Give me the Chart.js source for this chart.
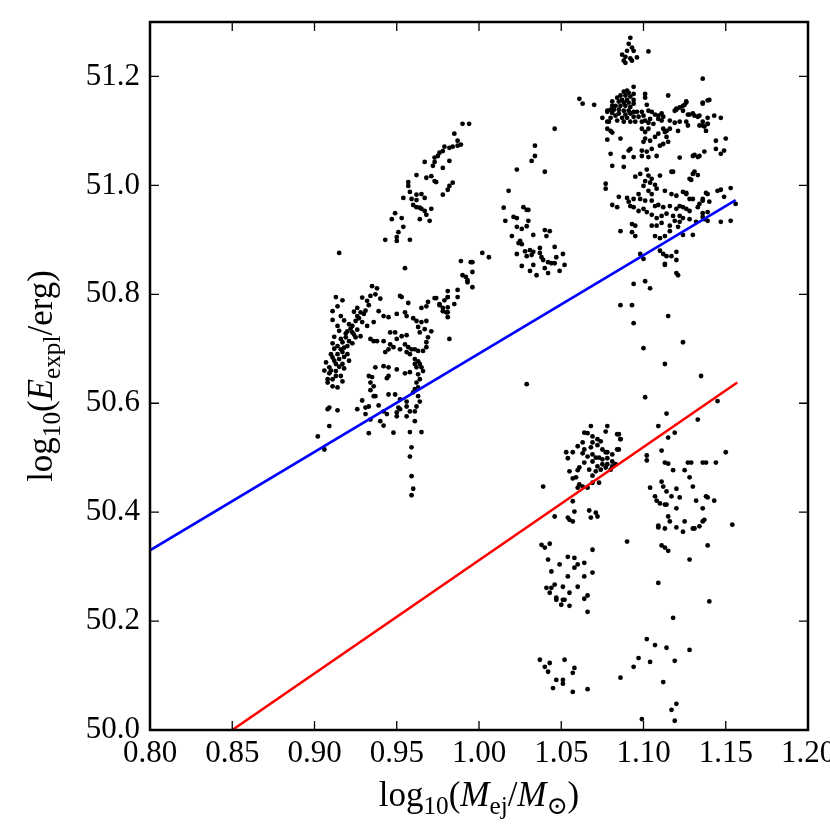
<!DOCTYPE html>
<html>
<head>
<meta charset="utf-8">
<script src="https://cdn.jsdelivr.net/npm/chart.js@4.4.0/dist/chart.umd.min.js"></script>
<style>
  html, body { margin: 0; padding: 0; background: #fff; overflow: hidden; }
</style>
</head>
<body>
<canvas id="chart" width="830" height="830"></canvas>
<script>
// [log10(Mej/Msun), log10(Eexpl/erg)], grouped by cluster
var armUpper = [[0.990,51.113],[0.994,51.113],[0.985,51.095],[0.987,51.082],[0.989,51.075],[0.987,51.073],[0.984,51.071],[0.982,51.069],[0.979,51.071],[0.978,51.063],[0.976,51.060],[0.975,51.054],[0.973,51.051],[0.973,51.043],[0.982,51.045],[0.967,51.043],[0.972,51.036],[0.978,51.032],[0.962,51.019],[0.968,51.014],[0.971,51.017],[0.973,51.008],[0.974,51.006],[0.984,51.005],[0.982,50.999],[0.981,50.992],[0.978,50.983],[0.957,51.006],[0.957,50.999],[0.958,50.988],[0.962,50.983],[0.965,50.984],[0.967,50.977],[0.954,50.977],[0.959,50.975],[0.962,50.973],[0.960,50.964],[0.962,50.960],[0.964,50.959],[0.965,50.957],[0.967,50.953],[0.971,50.957],[0.968,50.946],[0.970,50.935],[0.964,50.938],[0.949,50.949],[0.947,50.938],[0.953,50.940],[0.954,50.924],[0.951,50.914],[0.950,50.905],[0.950,50.898],[0.943,50.900],[0.958,50.900],[0.915,50.876],[0.955,50.848]];

var armLower = [[1.002,50.876],[1.006,50.868],[0.989,50.861],[0.995,50.859],[0.996,50.859],[0.996,50.841],[0.990,50.835],[0.992,50.832],[0.993,50.826],[0.993,50.822],[0.996,50.813],[0.987,50.808],[0.981,50.806],[0.981,50.795],[0.979,50.789],[0.987,50.795],[0.985,50.782],[0.974,50.793],[0.981,50.776],[0.980,50.767],[0.981,50.758],[0.982,50.718],[0.976,50.782],[0.978,50.775]];

var leftBand = [[0.935,50.815],[0.938,50.811],[0.913,50.795],[0.917,50.789],[0.914,50.778],[0.911,50.769],[0.932,50.788],[0.933,50.780],[0.926,50.775],[0.928,50.767],[0.930,50.764],[0.926,50.760],[0.925,50.751],[0.929,50.749],[0.936,50.749],[0.932,50.742],[0.923,50.742],[0.920,50.732],[0.914,50.742],[0.923,50.730],[0.919,50.721],[0.921,50.714],[0.917,50.712],[0.911,50.710],[0.916,50.699],[0.914,50.690],[0.917,50.694],[0.911,50.684],[0.915,50.681],[0.913,50.672],[0.909,50.666],[0.917,50.672],[0.913,50.659],[0.916,50.650],[0.911,50.644],[0.908,50.638],[0.911,50.631],[0.914,50.629],[0.908,50.644],[0.920,50.705],[0.925,50.721],[0.928,50.723],
  [0.912,50.700],[0.914,50.705],[0.918,50.702],[0.910,50.690],[0.912,50.678],[0.915,50.667],[0.910,50.660],[0.918,50.685],[0.916,50.718],[0.919,50.728],[0.922,50.737],[0.924,50.726],[0.921,50.745],[0.926,50.735],[0.920,50.690],[0.913,50.650],[0.909,50.655],[0.918,50.664],[0.912,50.722],[0.915,50.733],[0.927,50.756],[0.931,50.770],[0.924,50.768],[0.929,50.794],[0.937,50.800],[0.940,50.792],[0.934,50.797],[0.916,50.760],[0.918,50.752],[0.911,50.753],[0.907,50.675],[0.906,50.660],[0.917,50.640],[0.921,50.678],[0.923,50.710]];

var leftLoop = [[0.952,50.797],[0.953,50.795],[0.957,50.784],[0.973,50.793],[0.969,50.786],[0.968,50.778],[0.965,50.775],[0.976,50.780],[0.981,50.795],[0.978,50.769],[0.981,50.767],[0.939,50.769],[0.942,50.760],[0.945,50.758],[0.950,50.764],[0.955,50.767],[0.956,50.760],[0.960,50.756],[0.962,50.751],[0.965,50.749],[0.968,50.751],[0.963,50.740],[0.967,50.736],[0.971,50.732],[0.964,50.730],[0.946,50.730],[0.949,50.730],[0.953,50.723],[0.956,50.725],[0.950,50.718],[0.969,50.721],[0.968,50.712],[0.936,50.714],[0.934,50.718],[0.938,50.714],[0.942,50.714],[0.946,50.708],[0.948,50.703],[0.945,50.699],[0.943,50.694],[0.952,50.699],[0.955,50.708],[0.957,50.703],[0.959,50.699],[0.961,50.699],[0.963,50.696],[0.966,50.696],[0.968,50.703],[0.958,50.690],[0.956,50.694],[0.961,50.681],[0.963,50.677],[0.964,50.672],[0.965,50.666],[0.962,50.666],[0.961,50.672],[0.966,50.659],[0.963,50.653],[0.964,50.644],[0.962,50.638],[0.961,50.626],[0.963,50.629],[0.960,50.620],[0.963,50.613],[0.964,50.603],[0.962,50.594],[0.961,50.585],[0.958,50.585],[0.956,50.576],[0.961,50.567],[0.965,50.547],[0.958,50.547],[0.959,50.519],[0.958,50.502],[0.959,50.466],[0.960,50.443],[0.959,50.431],[0.937,50.666],[0.942,50.668],[0.945,50.666],[0.950,50.662],[0.955,50.655],[0.958,50.657],[0.933,50.650],[0.935,50.648],[0.945,50.650],[0.944,50.646],[0.934,50.638],[0.936,50.631],[0.934,50.624],[0.945,50.616],[0.949,50.616],[0.936,50.613],[0.937,50.613],[0.929,50.605],[0.952,50.607],[0.956,50.603],[0.926,50.589],[0.931,50.592],[0.933,50.594],[0.931,50.580],[0.934,50.570],[0.939,50.596],[0.942,50.585],[0.944,50.580],[0.940,50.567],[0.942,50.559],[0.950,50.583],[0.952,50.589],[0.950,50.576],[0.951,50.592],[0.956,50.594],[0.933,50.545],[0.948,50.546],[0.908,50.589],[0.909,50.592],[0.914,50.587],[0.909,50.558],[0.902,50.539],[0.906,50.515]];

var midCluster = [[1.034,51.073],[1.034,51.054],[1.032,51.045],[1.023,51.029],[1.040,51.025],[1.018,50.990],[1.015,50.959],[1.027,50.960],[1.029,50.955],[1.030,50.955],[1.016,50.935],[1.021,50.942],[1.023,50.940],[1.030,50.935],[1.029,50.925],[1.023,50.924],[1.026,50.920],[1.020,50.907],[1.033,50.909],[1.040,50.918],[1.043,50.916],[1.041,50.907],[1.025,50.898],[1.026,50.892],[1.024,50.894],[1.028,50.879],[1.031,50.881],[1.033,50.878],[1.037,50.885],[1.037,50.876],[1.046,50.887],[1.023,50.874],[1.029,50.870],[1.032,50.872],[1.038,50.868],[1.039,50.863],[1.042,50.859],[1.044,50.857],[1.046,50.857],[1.051,50.874],[1.047,50.868],[1.052,50.854],[1.026,50.852],[1.033,50.854],[1.040,50.848],[1.031,50.843],[1.035,50.835],[1.042,50.839],[1.049,50.843],[1.029,50.635],[1.046,51.104],[1.061,51.159],[1.063,51.150]];

var rightSpike = [[1.092,51.271],[1.091,51.260],[1.093,51.253],[1.090,51.247],[1.094,51.247],[1.087,51.240],[1.089,51.236],[1.092,51.233],[1.093,51.229],[1.088,51.229],[1.089,51.225],[1.096,51.235],[1.103,51.246]];

var rightBlob = [[1.094,51.181],[1.090,51.174],[1.088,51.172],[1.091,51.170],[1.094,51.168],[1.086,51.165],[1.089,51.165],[1.092,51.163],[1.084,51.161],[1.087,51.157],[1.090,51.157],[1.094,51.157],[1.081,51.154],[1.085,51.154],[1.088,51.152],[1.091,51.152],[1.094,51.150],[1.081,51.146],[1.083,51.146],[1.086,51.146],[1.089,51.146],[1.092,51.144],[1.080,51.139],[1.082,51.139],[1.085,51.139],[1.088,51.137],[1.091,51.137],[1.094,51.135],[1.078,51.135],[1.081,51.133],[1.085,51.132],[1.089,51.130],[1.092,51.132],[1.096,51.135],[1.083,51.128],[1.087,51.124],[1.090,51.124],[1.094,51.126],[1.080,51.124],[1.097,51.126],[1.084,51.119],[1.088,51.117],[1.079,51.117],[1.092,51.117],[1.095,51.117],[1.070,51.148],[1.075,51.124],[1.078,51.137]];

var rightUpper = [[1.101,51.168],[1.101,51.161],[1.102,51.148],[1.115,51.165],[1.099,51.135],[1.100,51.128],[1.103,51.137],[1.105,51.135],[1.107,51.130],[1.109,51.128],[1.111,51.132],[1.109,51.122],[1.111,51.119],[1.104,51.122],[1.101,51.119],[1.099,51.117],[1.103,51.115],[1.106,51.113],[1.112,51.126],[1.116,51.119],[1.119,51.115],[1.122,51.117],[1.119,51.137],[1.120,51.139],[1.122,51.143],[1.124,51.146],[1.126,51.152],[1.124,51.137],[1.127,51.130],[1.130,51.132],[1.133,51.126],[1.136,51.152],[1.139,51.156],[1.136,51.117],[1.139,51.113],[1.137,51.108],[1.126,51.117],[1.127,51.110],[1.121,51.100],[1.114,51.100],[1.112,51.104],[1.078,51.117],[1.078,51.104],[1.080,51.100],[1.081,51.097],[1.078,51.084],[1.086,51.086],[1.099,51.104],[1.101,51.098],[1.103,51.104],[1.101,51.086],[1.100,51.080],[1.104,51.082],[1.107,51.089],[1.109,51.095],[1.113,51.098],[1.116,51.104],[1.110,51.073],[1.112,51.076],[1.115,51.080],[1.114,51.089],[1.099,51.064],[1.102,51.062],[1.105,51.067],[1.092,51.067],[1.091,51.064],[1.080,51.058],[1.088,51.052],[1.094,51.052],[1.099,51.054],[1.103,51.052],[1.108,51.054],[1.122,51.051],[1.130,51.054],[1.133,51.052],[1.137,51.062],
  [1.081,51.036],[1.088,51.034],[1.095,51.016],[1.098,51.021],[1.102,51.029],[1.103,51.018],[1.105,51.012],[1.101,51.008],[1.104,51.005],[1.107,51.001],[1.110,51.018],[1.117,51.025],[1.128,51.012],[1.130,51.021],[1.077,51.003],[1.077,50.994],[1.100,50.999],[1.103,50.990],[1.105,50.984],[1.108,50.994],[1.113,50.990],[1.117,50.984],[1.120,50.981],[1.124,50.988],[1.126,50.984],[1.128,50.975],[1.097,50.984],[1.098,50.975],[1.094,50.975],[1.101,50.972],[1.105,50.972],[1.107,50.962],[1.109,50.964],[1.112,50.960],[1.116,50.962],[1.120,50.957],[1.122,50.962],[1.124,50.960],[1.126,50.957],[1.128,50.953],[1.133,50.960],[1.134,50.966],[1.136,50.975],[1.139,50.984],[1.085,50.979],[1.090,50.977],[1.091,50.970],[1.092,50.962],[1.081,50.964],[1.084,50.960],[1.094,50.960],[1.097,50.953],[1.100,50.957],[1.102,50.951],[1.105,50.946],[1.108,50.940],[1.111,50.944],[1.114,50.948],[1.118,50.944],[1.119,50.935],[1.122,50.933],[1.124,50.940],[1.128,50.938],[1.132,50.933],[1.136,50.942],[1.139,50.935],[1.093,50.929],[1.095,50.926],[1.105,50.926],[1.108,50.926],[1.111,50.931],[1.116,50.926],[1.121,50.924],[1.086,50.916],[1.093,50.914],[1.095,50.907],[1.107,50.907],[1.110,50.903],[1.113,50.907],[1.116,50.916],[1.130,50.909]];

var rightFar = [[1.136,51.196],[1.126,51.154],[1.125,51.148],[1.120,51.141],[1.136,51.150],[1.140,51.157],[1.131,51.128],[1.128,51.130],[1.139,51.124],[1.143,51.128],[1.147,51.124],[1.134,51.110],[1.136,51.110],[1.139,51.113],[1.138,51.100],[1.144,51.082],[1.150,51.086],[1.144,51.067],[1.147,51.058],[1.149,51.064],[1.134,51.054],[1.131,51.056],[1.131,51.025],[1.133,51.019],[1.129,51.010],[1.118,51.025],[1.134,51.128],
  [1.145,50.990],[1.147,50.992],[1.153,50.995],[1.138,50.986],[1.140,50.970],[1.136,50.972],[1.149,50.979],[1.156,50.966],[1.147,50.933],[1.153,50.935],[1.130,50.975],[1.126,50.986],[1.136,50.949],[1.139,50.951],[1.137,50.938],[1.122,50.944],[1.124,50.909]];

var rightDrip = [[1.110,50.880],[1.112,50.874],[1.114,50.870],[1.117,50.870],[1.120,50.878],[1.120,50.863],[1.113,50.854],[1.113,50.856],[1.120,50.839],[1.121,50.835],[1.098,50.874],[1.100,50.865],[1.094,50.819],[1.101,50.824],[1.104,50.811],[1.086,50.780],[1.093,50.780],[1.115,50.760],[1.094,50.747],[1.100,50.701],[1.124,50.712],[1.113,50.672],[1.135,50.650],[1.101,50.611],[1.145,50.604],[1.133,50.570],[1.114,50.581],[1.109,50.558],[1.119,50.546],[1.115,50.537],[1.084,50.543],[1.086,50.534],[1.084,50.515],[1.111,50.513],[1.102,50.504],[1.102,50.495],[1.150,50.510],[1.113,50.491],[1.115,50.489],[1.118,50.477],[1.127,50.491],[1.129,50.491],[1.125,50.477],[1.128,50.464],[1.136,50.491],[1.138,50.491],[1.144,50.491],[1.104,50.445],[1.111,50.456],[1.112,50.447],[1.114,50.438],[1.117,50.429],[1.120,50.443],[1.122,50.427],[1.107,50.429],[1.108,50.421],[1.110,50.416],[1.113,50.414],[1.114,50.414],[1.120,50.407],[1.115,50.392],[1.116,50.383],[1.130,50.447],[1.132,50.421],[1.136,50.407],[1.138,50.429],[1.139,50.427],[1.143,50.421],[1.125,50.383],[1.120,50.372],[1.124,50.364],[1.130,50.370],[1.131,50.370],[1.134,50.374],[1.136,50.383],[1.137,50.386],[1.109,50.375],[1.109,50.372],[1.113,50.370],[1.154,50.377],[1.111,50.339],[1.113,50.335],[1.115,50.329],[1.139,50.339],[1.090,50.346],[1.128,50.313],[1.109,50.270],[1.140,50.236],[1.118,50.206],[1.102,50.167],[1.107,50.156],[1.114,50.151],[1.097,50.132],[1.094,50.116],[1.104,50.125],[1.119,50.127],[1.128,50.147],[1.086,50.096],[1.112,50.088],[1.120,50.048],[1.117,50.037],[1.119,50.017],[1.099,50.020]];

var lowerMid = [[1.068,50.558],[1.078,50.558],[1.064,50.546],[1.066,50.545],[1.077,50.548],[1.085,50.543],[1.086,50.534],[1.069,50.539],[1.072,50.534],[1.074,50.530],[1.063,50.528],[1.060,50.521],[1.069,50.528],[1.064,50.515],[1.068,50.519],[1.072,50.523],[1.075,50.515],[1.077,50.510],[1.078,50.510],[1.081,50.506],[1.085,50.515],[1.053,50.510],[1.054,50.499],[1.057,50.510],[1.063,50.508],[1.066,50.502],[1.069,50.506],[1.071,50.500],[1.073,50.500],[1.075,50.497],[1.078,50.499],[1.081,50.493],[1.083,50.488],[1.081,50.484],[1.078,50.488],[1.075,50.488],[1.072,50.484],[1.069,50.493],[1.064,50.491],[1.077,50.482],[1.074,50.478],[1.080,50.478],[1.071,50.475],[1.067,50.478],[1.061,50.482],[1.060,50.477],[1.055,50.475],[1.057,50.462],[1.059,50.464],[1.069,50.467],[1.073,50.454],[1.069,50.454],[1.063,50.447],[1.066,50.445],[1.060,50.445],[1.061,50.451],[1.057,50.420],[1.058,50.401],[1.046,50.392],[1.054,50.390],[1.055,50.386],[1.057,50.383],[1.067,50.403],[1.071,50.399],[1.072,50.392],[1.068,50.390],[1.069,50.331],[1.043,50.342],[1.039,50.447],
  [1.054,50.318],[1.058,50.316],[1.049,50.304],[1.060,50.304],[1.064,50.307],[1.058,50.298],[1.054,50.282],[1.064,50.282],[1.069,50.289],[1.046,50.267],[1.044,50.261],[1.051,50.263],[1.060,50.263],[1.043,50.252],[1.055,50.252],[1.066,50.247],[1.047,50.239],[1.051,50.239],[1.052,50.239],[1.064,50.241],[1.055,50.228],[1.066,50.217],[1.038,50.340],[1.040,50.335],[1.042,50.313],[1.044,50.291],[1.041,50.261],[1.047,50.243],[1.050,50.230],
  [1.043,50.123],[1.052,50.129],[1.058,50.114],[1.057,50.105],[1.047,50.092],[1.051,50.092],[1.051,50.085],[1.045,50.077],[1.057,50.070],[1.066,50.075],[1.037,50.129],[1.040,50.116],[1.042,50.107]];

// the two straight lines, end points
var blueLineX = [0.80, 1.156];
var blueLineY = [50.33, 50.973];
var redLineX = [0.85, 1.157];
var redLineY = [50.0, 50.638];

var xTickValues = [0.80, 0.85, 0.90, 0.95, 1.00, 1.05, 1.10, 1.15, 1.20];
var yTickValues = [50.0, 50.2, 50.4, 50.6, 50.8, 51.0, 51.2];

var allPoints = [].concat(armUpper, armLower, leftBand, leftLoop, midCluster,
  rightSpike, rightBlob, rightUpper, rightFar, rightDrip, lowerMid)
  .map(function (p) { return { x: p[0], y: p[1] }; });

function linePoints(xs, ys) {
  return xs.map(function (v, i) { return { x: v, y: ys[i] }; });
}

var serif = "'Liberation Serif', 'DejaVu Serif', serif";
var tickSize = 31;
var titleSize = 35;

// draws a label made of pieces: normal, italic, subscript
function drawPieces(ctx, pieces, cx, baseY) {
  function fontFor(p) {
    var size = p.sub ? titleSize * 0.72 : titleSize;
    return (p.it ? 'italic ' : '') + size + 'px ' + serif;
  }
  var total = 0;
  pieces.forEach(function (p) { ctx.font = fontFor(p); total += ctx.measureText(p.t).width; });
  var x = cx - total / 2;
  pieces.forEach(function (p) {
    ctx.font = fontFor(p);
    ctx.fillText(p.t, x, baseY + (p.sub ? titleSize * 0.22 : 0));
    x += ctx.measureText(p.t).width;
  });
}

var xTitle = [{t: 'log'}, {t: '10', sub: true}, {t: '('}, {t: 'M', it: true}, {t: 'ej', sub: true},
  {t: '/'}, {t: 'M', it: true}, {t: '\u2299', sub: true}, {t: ')'}];
var yTitle = [{t: 'log'}, {t: '10', sub: true}, {t: '('}, {t: 'E', it: true}, {t: 'expl', sub: true},
  {t: '/erg)'}];

var framePlugin = {
  id: 'frame',
  afterDraw: function (chart) {
    var ctx = chart.ctx, a = chart.chartArea;
    var xs = chart.scales.x, ys = chart.scales.y;
    ctx.save();
    ctx.strokeStyle = '#000';
    ctx.lineWidth = 1.3;
    ctx.beginPath();
    xTickValues.forEach(function (v) {
      var px = xs.getPixelForValue(v);
      ctx.moveTo(px, a.bottom); ctx.lineTo(px, a.bottom - 9);
      ctx.moveTo(px, a.top); ctx.lineTo(px, a.top + 9);
    });
    yTickValues.forEach(function (v) {
      var py = ys.getPixelForValue(v);
      ctx.moveTo(a.left, py); ctx.lineTo(a.left + 9, py);
      ctx.moveTo(a.right, py); ctx.lineTo(a.right - 9, py);
    });
    ctx.stroke();
    ctx.lineWidth = 2.5;
    ctx.strokeRect(a.left, a.top, a.right - a.left, a.bottom - a.top);

    ctx.fillStyle = '#000';
    ctx.textBaseline = 'alphabetic';
    ctx.textAlign = 'left';
    drawPieces(ctx, xTitle, (a.left + a.right) / 2, 806);
    ctx.translate(52, (a.top + a.bottom) / 2);
    ctx.rotate(-Math.PI / 2);
    drawPieces(ctx, yTitle, 0, 0);
    ctx.restore();
  }
};

new Chart(document.getElementById('chart').getContext('2d'), {
  type: 'scatter',
  data: {
    datasets: [{
      label: 'blue',
      data: linePoints(blueLineX, blueLineY),
      showLine: true,
      borderColor: '#0000ff',
      borderWidth: 2.6,
      pointRadius: 0,
      order: 0
    }, {
      label: 'red',
      data: linePoints(redLineX, redLineY),
      showLine: true,
      borderColor: '#ff0000',
      borderWidth: 2.6,
      pointRadius: 0,
      order: 0
    }, {
      label: 'models',
      data: allPoints,
      pointRadius: 2.4,
      pointBackgroundColor: '#000',
      pointBorderWidth: 0,
      order: 1
    }]
  },
  options: {
    responsive: false,
    animation: false,
    layout: { padding: { top: 22, right: 22, left: 0, bottom: 0 } },
    plugins: { legend: { display: false }, tooltip: { enabled: false } },
    scales: {
      x: {
        type: 'linear', min: 0.8, max: 1.2,
        grid: { display: false, drawTicks: false },
        border: { display: false },
        ticks: {
          stepSize: 0.05, padding: 5, color: '#000',
          font: { family: serif, size: tickSize },
          callback: function (v) { return v.toFixed(2); }
        },
        afterFit: function (s) { s.height = 100; s.paddingLeft = 0; s.paddingRight = 0; }
      },
      y: {
        type: 'linear', min: 50.0, max: 51.3,
        grid: { display: false, drawTicks: false },
        border: { display: false },
        ticks: {
          stepSize: 0.2, padding: 10, color: '#000', includeBounds: false,
          font: { family: serif, size: tickSize },
          callback: function (v) { return v.toFixed(1); }
        },
        afterFit: function (s) { s.width = 150; s.paddingTop = 0; s.paddingBottom = 0; }
      }
    }
  },
  plugins: [framePlugin]
});
</script>
</body>
</html>
